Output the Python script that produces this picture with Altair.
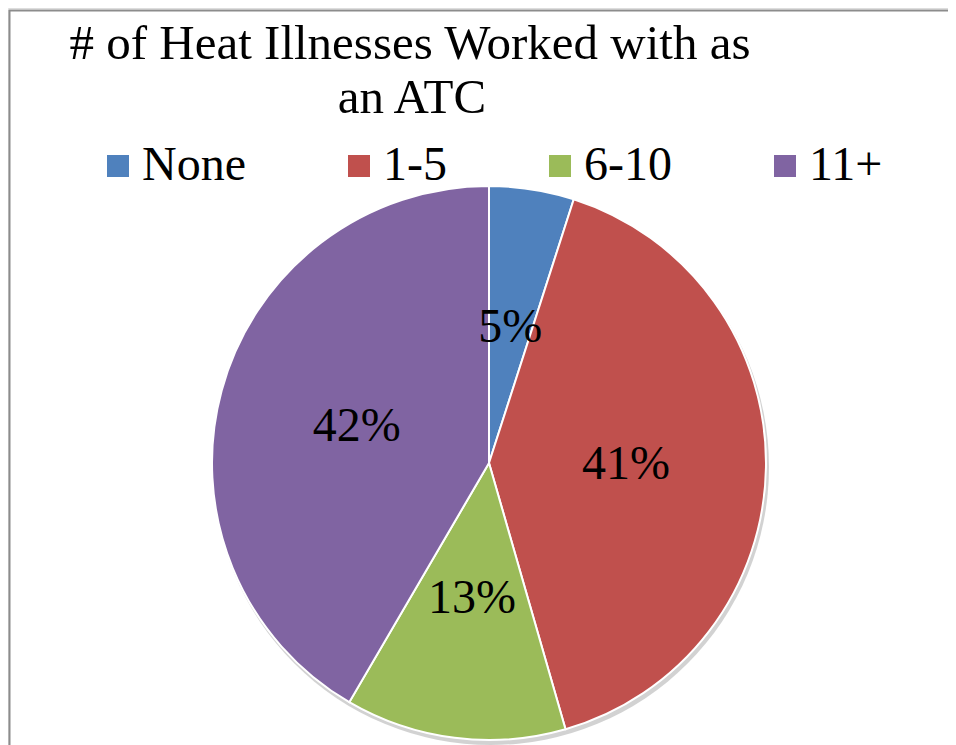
import altair as alt
import pandas as pd

# ---- data ----
categories = ["None", "1-5", "6-10", "11+"]
values = [5, 41, 13, 42]              # percent of respondents
labels = ["5%", "41%", "13%", "42%"]
colors = ["#4F81BD", "#C0504D", "#9BBB59", "#8064A2"]
title_lines = ["# of Heat Illnesses Worked with as", "an ATC"]

df = pd.DataFrame({
    "category": categories,
    "value": values,
    "label": labels,
    "idx": list(range(len(categories))),
})

W, H = 940, 737
CX, CY, R = 481, 455, 277
SERIF = "Liberation Serif"

color_scale = alt.Scale(domain=categories, range=colors)

base = alt.Chart(df).encode(
    theta=alt.Theta("value:Q", stack=True),
    order=alt.Order("idx:Q"),
)

shadow = alt.Chart(pd.DataFrame({"s": [1]})).mark_arc(
    color="#7f7f7f", opacity=0.35, radius=R + 1
).encode(
    x=alt.value(CX + 2), y=alt.value(CY + 4),
    theta=alt.value(0), theta2=alt.value(6.2832),
)

pie = base.mark_arc(radius=R, stroke="white", strokeWidth=2).encode(
    x=alt.value(CX), y=alt.value(CY),
    color=alt.Color(
        "category:N", scale=color_scale, sort=categories,
        legend=alt.Legend(
            title=None, orient="none", legendX=86, legendY=134,
            direction="horizontal", symbolType="square", symbolSize=484,
            symbolStrokeWidth=0, labelFont=SERIF, labelFontSize=48,
            labelColor="black", labelOffset=0, columnPadding=89,
            padding=0, labelLimit=400,
        ),
    ),
)

text = base.mark_text(
    radius=137, font=SERIF, fontSize=48, color="black",
    baseline="middle", align="center",
).encode(
    x=alt.value(CX), y=alt.value(CY),
    text="label:N",
)

one = pd.DataFrame({"b": [1]})
title1 = alt.Chart(one).mark_text(
    text=title_lines[0], font=SERIF, fontSize=49, color="black",
    align="center", baseline="alphabetic",
).encode(x=alt.value(402), y=alt.value(51))
title2 = alt.Chart(one).mark_text(
    text=title_lines[1], font=SERIF, fontSize=49, color="black",
    align="center", baseline="alphabetic",
).encode(x=alt.value(404), y=alt.value(105))

left_edge = alt.Chart(one).mark_rule(color="#8c8c8c", strokeWidth=2).encode(
    x=alt.value(1.5), y=alt.value(2), y2=alt.value(H)
)
top_edge = alt.Chart(one).mark_rule(color="#8c8c8c", strokeWidth=2).encode(
    x=alt.value(1), x2=alt.value(W), y=alt.value(2.5)
)

chart = alt.layer(left_edge, top_edge, title1, title2, shadow, pie, text).properties(
    width=W, height=H, padding=0,
    autosize=alt.AutoSizeParams(type="none"),
).configure_view(stroke=None).configure(background="white")

chart.save("out.html", embed_options={"renderer": "svg", "actions": False})
